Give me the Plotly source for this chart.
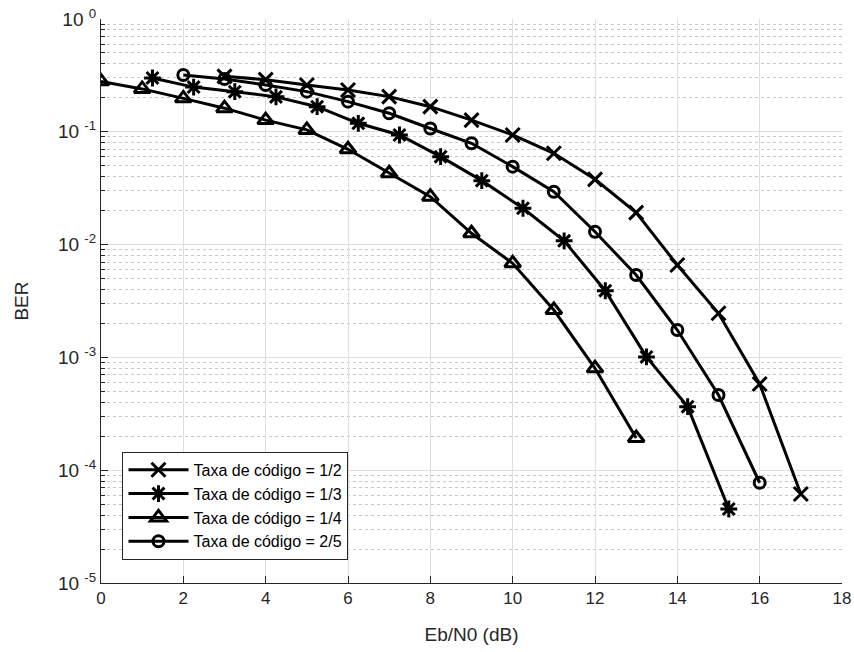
import plotly.graph_objects as go

# Data
x_half = [3, 4, 5, 6, 7, 8, 9, 10, 11, 12, 13, 14, 15, 16, 17]
ber_half = [0.31, 0.29, 0.26, 0.235, 0.205, 0.167, 0.127, 0.0937, 0.0645, 0.0379,
            0.0192, 0.00659, 0.00246, 5.81e-4, 6.15e-5]

x_third = [1.25, 2.25, 3.25, 4.25, 5.25, 6.25, 7.25, 8.25, 9.25, 10.25, 11.25, 12.25,
           13.25, 14.25, 15.25]
ber_third = [0.300, 0.249, 0.227, 0.204, 0.167, 0.119, 0.0937, 0.0602, 0.0369, 0.0210,
             0.0108, 0.0039, 0.00101, 3.66e-4, 4.53e-5]

x_quarter = [0, 1, 2, 3, 4, 5, 6, 7, 8, 9, 10, 11, 12, 13]
ber_quarter = [0.28, 0.24, 0.198, 0.162, 0.127, 0.104, 0.070, 0.0429, 0.0266, 0.0126,
               0.00683, 0.00263, 8.0e-4, 1.93e-4]

x_twofifth = [2, 3, 4, 5, 6, 7, 8, 9, 10, 11, 12, 13, 14, 15, 16]
ber_twofifth = [0.319, 0.294, 0.260, 0.227, 0.185, 0.146, 0.107, 0.0791, 0.0491, 0.0294,
                0.0130, 0.00537, 0.00175, 4.64e-4, 7.74e-5]

names = ["Taxa de código = 1/2", "Taxa de código = 1/3",
         "Taxa de código = 1/4", "Taxa de código = 2/5"]
xticks = [0, 2, 4, 6, 8, 10, 12, 14, 16, 18]
yticks = [1, 0.1, 0.01, 0.001, 1e-4, 1e-5]
yexp = ["0", "-1", "-2", "-3", "-4", "-5"]
ytext = ["10 <sup>%s</sup>" % e for e in yexp]

series = [
    (x_half, ber_half, "x-thin-open", 14),
    (x_third, ber_third, "asterisk-open", 14),
    (x_quarter, ber_quarter, "triangle-up-open", 14),
    (x_twofifth, ber_twofifth, "circle-open", 11),
]

fig = go.Figure()
for (xs, ys, sym, sz), nm in zip(series, names):
    fig.add_trace(go.Scatter(
        x=xs, y=ys, name=nm, mode="lines+markers",
        line=dict(color="black", width=3),
        marker=dict(symbol=sym, size=sz, color="black",
                    line=dict(color="black", width=3)),
    ))

axis_color = "#262626"
fig.update_layout(
    width=854, height=652,
    margin=dict(l=101, r=12, t=19, b=69),
    paper_bgcolor="white", plot_bgcolor="white",
    font=dict(family="Liberation Sans, Arial, sans-serif", color=axis_color, size=17),
    showlegend=True,
    legend=dict(
        x=0.029, y=0.041, xanchor="left", yanchor="bottom",
        bgcolor="white", bordercolor="#262626", borderwidth=1,
        font=dict(size=16, color="black"),
        tracegroupgap=0, itemwidth=60,
    ),
    xaxis=dict(
        range=[0, 18], tickvals=xticks, ticks="inside", ticklen=7,
        tickcolor=axis_color, showline=True, linecolor=axis_color, linewidth=1,
        showgrid=True, gridcolor="#dedede", gridwidth=1, zeroline=False,
        automargin=False,
        title=dict(text="Eb/N0 (dB)", font=dict(size=19), standoff=20),
        tickfont=dict(size=17),
    ),
    yaxis=dict(
        type="log", range=[-5, 0], tickvals=yticks, ticktext=ytext,
        ticks="inside", ticklen=7, tickcolor=axis_color,
        showline=True, linecolor=axis_color, linewidth=1,
        showgrid=True, gridcolor="#dedede", gridwidth=1, zeroline=False,
        automargin=False,
        title=dict(text="BER", font=dict(size=19), standoff=24),
        tickfont=dict(size=19),
        minor=dict(ticks="inside", ticklen=4, tickcolor=axis_color, dtick="D1",
                   showgrid=True, gridcolor="#c8c8c8", griddash="dot", gridwidth=1),
    ),
)

fig.write_html("out.html")
